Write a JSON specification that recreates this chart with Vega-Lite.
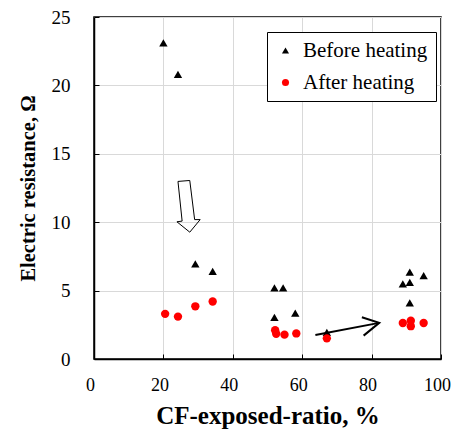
{
  "$schema": "https://vega.github.io/schema/vega-lite/v6.json",
  "width": 347,
  "height": 342,
  "autosize": "none",
  "padding": {"left": 94, "top": 17, "right": 13, "bottom": 71},
  "background": "white",
  "config": {
    "font": "Liberation Serif",
    "view": {"stroke": "black", "strokeWidth": 1.5},
    "axis": {
      "grid": true,
      "gridColor": "#d9d9d9",
      "gridWidth": 1,
      "domainColor": "black",
      "domainWidth": 1.5,
      "tickColor": "black",
      "tickSize": -5,
      "tickWidth": 1,
      "labelFlush": false,
      "labelFont": "Liberation Serif",
      "labelFontSize": 19,
      "labelColor": "black",
      "titleFont": "Liberation Serif",
      "titleFontWeight": "bold",
      "titleColor": "black"
    }
  },
  "datasets": {
    "pts": [
      {"series": "Before heating", "ratio": 20.0, "resistance": 23.1},
      {"series": "Before heating", "ratio": 24.2, "resistance": 20.8},
      {"series": "Before heating", "ratio": 29.2, "resistance": 6.95},
      {"series": "Before heating", "ratio": 34.2, "resistance": 6.4},
      {"series": "Before heating", "ratio": 52.0, "resistance": 5.2},
      {"series": "Before heating", "ratio": 54.5, "resistance": 5.2},
      {"series": "Before heating", "ratio": 52.0, "resistance": 3.05},
      {"series": "Before heating", "ratio": 58.0, "resistance": 3.35},
      {"series": "Before heating", "ratio": 67.1, "resistance": 1.95},
      {"series": "Before heating", "ratio": 91.0, "resistance": 6.35},
      {"series": "Before heating", "ratio": 89.0, "resistance": 5.5},
      {"series": "Before heating", "ratio": 91.0, "resistance": 5.6},
      {"series": "Before heating", "ratio": 95.0, "resistance": 6.1},
      {"series": "Before heating", "ratio": 91.0, "resistance": 4.1},
      {"series": "After heating", "ratio": 20.5, "resistance": 3.3},
      {"series": "After heating", "ratio": 24.2, "resistance": 3.1},
      {"series": "After heating", "ratio": 29.2, "resistance": 3.85},
      {"series": "After heating", "ratio": 34.2, "resistance": 4.2},
      {"series": "After heating", "ratio": 52.2, "resistance": 2.1},
      {"series": "After heating", "ratio": 52.5, "resistance": 1.85},
      {"series": "After heating", "ratio": 54.9, "resistance": 1.78},
      {"series": "After heating", "ratio": 58.3, "resistance": 1.87},
      {"series": "After heating", "ratio": 67.1, "resistance": 1.51},
      {"series": "After heating", "ratio": 89.0, "resistance": 2.63},
      {"series": "After heating", "ratio": 91.3, "resistance": 2.8},
      {"series": "After heating", "ratio": 91.3, "resistance": 2.4},
      {"series": "After heating", "ratio": 95.0, "resistance": 2.63}
    ],
    "hollowArrow": [
      {"i": 0, "ratio": 24.2, "resistance": 12.98},
      {"i": 1, "ratio": 27.6, "resistance": 13.05},
      {"i": 2, "ratio": 29.0, "resistance": 10.19},
      {"i": 3, "ratio": 30.6, "resistance": 10.19},
      {"i": 4, "ratio": 27.6, "resistance": 9.27},
      {"i": 5, "ratio": 23.9, "resistance": 10.03},
      {"i": 6, "ratio": 25.4, "resistance": 10.08},
      {"i": 7, "ratio": 24.2, "resistance": 12.98}
    ],
    "blackArrow": [
      {"seg": "shaft", "i": 0, "ratio": 63.8, "resistance": 1.76},
      {"seg": "shaft", "i": 1, "ratio": 82.2, "resistance": 2.64},
      {"seg": "head", "i": 0, "ratio": 77.2, "resistance": 3.05},
      {"seg": "head", "i": 1, "ratio": 82.2, "resistance": 2.64},
      {"seg": "head", "i": 2, "ratio": 77.7, "resistance": 1.71}
    ]
  },
  "layer": [
    {
      "data": {"name": "hollowArrow"},
      "mark": {"type": "line", "color": "black", "strokeWidth": 1, "strokeJoin": "miter"},
      "encoding": {
        "x": {"field": "ratio", "type": "quantitative"},
        "y": {"field": "resistance", "type": "quantitative"},
        "order": {"field": "i"}
      }
    },
    {
      "data": {"name": "blackArrow"},
      "mark": {"type": "line", "color": "black", "strokeWidth": 2},
      "encoding": {
        "x": {"field": "ratio", "type": "quantitative"},
        "y": {"field": "resistance", "type": "quantitative"},
        "detail": {"field": "seg"},
        "order": {"field": "i"}
      }
    },
    {
      "data": {"name": "pts"},
      "mark": {"type": "point", "filled": true, "opacity": 1, "size": 70},
      "encoding": {
        "x": {
          "field": "ratio", "type": "quantitative",
          "scale": {"domain": [0, 100], "nice": false},
          "axis": {"values": [0, 20, 40, 60, 80, 100], "title": "CF-exposed-ratio, %", "titleFontSize": 25, "labelFontSize": 18, "labelPadding": 22, "labelOffset": -4, "titlePadding": 9}
        },
        "y": {
          "field": "resistance", "type": "quantitative",
          "scale": {"domain": [0, 25], "nice": false},
          "axis": {"values": [0, 5, 10, 15, 20, 25], "title": "Electric resistance, Ω", "titleFontSize": 20.5, "labelPadding": 29, "titlePadding": 13}
        },
        "color": {
          "field": "series", "type": "nominal",
          "scale": {"domain": ["Before heating", "After heating"], "range": ["black", "#ff0000"]},
          "legend": {
            "title": null,
            "orient": "none",
            "legendX": 173,
            "legendY": 15,
            "strokeColor": "black",
            "fillColor": "white",
            "padding": 8,
            "rowPadding": 10,
            "labelFontSize": 21,
            "labelFont": "Liberation Serif",
            "labelColor": "black",
            "symbolSize": 50,
            "labelOffset": 7
          }
        },
        "shape": {
          "field": "series", "type": "nominal",
          "scale": {"domain": ["Before heating", "After heating"], "range": ["triangle-up", "circle"]},
          "legend": null
        }
      }
    }
  ]
}
